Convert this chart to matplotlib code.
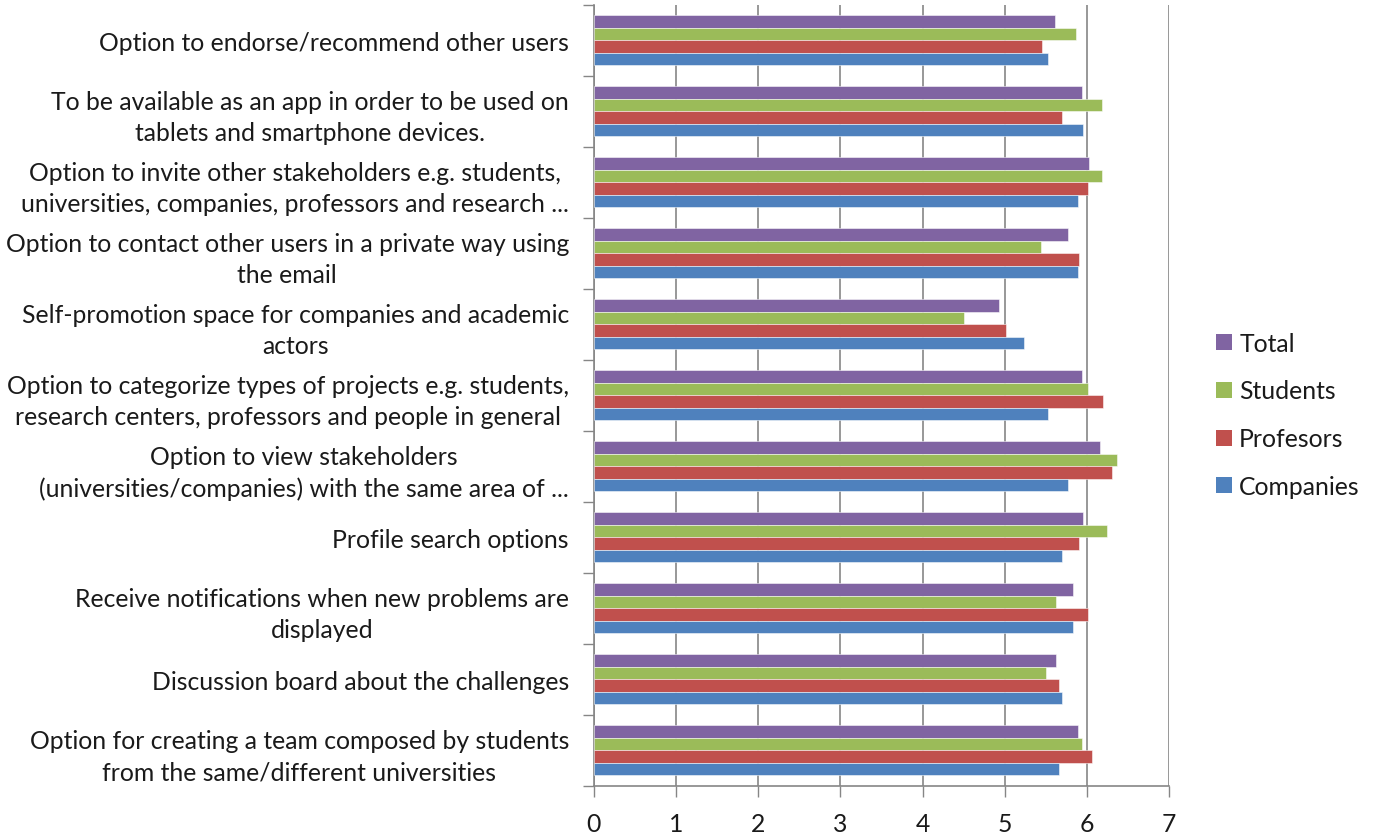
import matplotlib
matplotlib.use("Agg")
import matplotlib.pyplot as plt
from matplotlib.patches import Patch
import numpy as np

plt.rcParams['font.family'] = ['Lato', 'DejaVu Sans']

categories = [
    "Option to endorse/recommend other users",
    "To be available as an app in order to be used on\ntablets and smartphone devices.",
    "Option to invite other stakeholders e.g. students,\nuniversities, companies, professors and research ...",
    "Option to contact other users in a private way using\nthe email",
    "Self-promotion space for companies and academic\nactors",
    "Option to categorize types of projects e.g. students,\nresearch centers, professors and people in general",
    "Option to view stakeholders\n(universities/companies) with the same area of ...",
    "Profile search options",
    "Receive notifications when new problems are\ndisplayed",
    "Discussion board about the challenges",
    "Option for creating a team composed by students\nfrom the same/different universities",
]

series_names = ["Total", "Students", "Profesors", "Companies"]
total = [5.61, 5.94, 6.03, 5.77, 4.93, 5.94, 6.16, 5.95, 5.83, 5.63, 5.89]
students = [5.87, 6.19, 6.19, 5.44, 4.51, 6.01, 6.37, 6.25, 5.63, 5.50, 5.94]
profesors = [5.46, 5.70, 6.01, 5.91, 5.01, 6.20, 6.31, 5.91, 6.01, 5.66, 6.06]
companies = [5.53, 5.95, 5.89, 5.89, 5.24, 5.53, 5.77, 5.70, 5.83, 5.70, 5.66]
x_ticks = [0, 1, 2, 3, 4, 5, 6, 7]

colors = ["#8064A2", "#9BBB59", "#C0504D", "#4F81BD"]
series = [total, students, profesors, companies]

fig = plt.figure(figsize=(13.79, 8.37), dpi=100)
ax = fig.add_axes([0.4307, 0.0601, 0.4170, 0.9331])

n = len(categories)
centers = np.arange(n)
bar_h = 0.178
for i, (vals, col) in enumerate(zip(series, colors)):
    offs = (i - 1.5) * bar_h
    ax.barh(centers + offs, vals, height=bar_h, color=col,
            edgecolor=(1, 1, 1, 0.6), linewidth=0.6, zorder=3)

ax.set_ylim(n - 0.5, -0.5)
ax.set_xlim(0, 7)
ax.set_xticks(x_ticks)
ax.set_xticklabels([str(t) for t in x_ticks])
ax.set_yticks(centers)
ax.set_yticklabels(categories, ha='right', multialignment='center',
                   fontsize=17.8, color='#1a1a1a', linespacing=1.42)
ax.set_yticks(np.arange(n + 1) - 0.5, minor=True)
ax.tick_params(axis='y', which='major', length=0, pad=18)
ax.tick_params(axis='y', which='minor', length=8, color='#868686', width=1)
ax.tick_params(axis='x', which='major', length=8, color='#868686', width=1,
               labelsize=17.8, labelcolor='#1a1a1a', pad=11)

ax.grid(axis='x', color='#868686', linewidth=1.2, zorder=0)
for s in ['top', 'right']:
    ax.spines[s].set_visible(False)
for s in ['left', 'bottom']:
    ax.spines[s].set_color('#868686')
    ax.spines[s].set_linewidth(1.2)

handles = [Patch(facecolor=c, edgecolor='none') for c in colors]
fig.legend(handles, series_names, loc='upper left',
           bbox_to_anchor=(0.866, 0.629), frameon=False, fontsize=17.8,
           handlelength=0.62, handleheight=0.62, handletextpad=0.3,
           labelspacing=1.0, labelcolor='#1a1a1a')

fig.savefig("out.png", dpi=100)
